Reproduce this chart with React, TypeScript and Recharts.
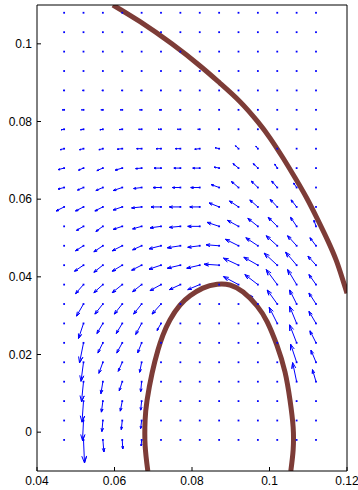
import { ComposedChart, Line, Scatter, XAxis, YAxis } from "recharts";

// quiver grid (columns left to right, rows top to bottom)
const xGrid = [0.047, 0.052, 0.057, 0.062, 0.067, 0.072, 0.077, 0.082, 0.087, 0.092, 0.097, 0.102, 0.107, 0.112];
const yGrid = [
  0.108, 0.103, 0.098, 0.093, 0.088, 0.083, 0.078, 0.073, 0.068, 0.063, 0.058, 0.053,
  0.048, 0.043, 0.038, 0.033, 0.028, 0.023, 0.018, 0.013, 0.008, 0.003, -0.002,
];

// velocity components, one row per yGrid entry
const U = [
  [0, 0, 0, 0, 0, 0, 0, 0, 0, 0, 0, 0, 0, 0],
  [0, 0, 0, 0, 0, 0, 0, 0, 0, 0, 0, 0, 0, 0],
  [0, 0, 0, 0, 0, 0, 0, 0, 0, 0, 0, 0, 0, 0],
  [0, 0, 0, 0, 0, 0, 0, 0, 0, 0, 0, 0, 0, 0],
  [-1, -1, -1, -1, -1, -1, -0.5, 0, 0, 0, 0, 0, 0, 0],
  [-2, -2, -2, -2, -2, -2, -1, -0.5, 0, 0, 0, 0, 0, 0],
  [-3, -3, -3, -3, -3, -3, -3, -2, -1, -0.5, 0, 0, 0, 0],
  [-4, -4, -4, -5, -5, -5, -5, -5, -4, -3, -2, 0, 0, 0],
  [-6, -5, -6, -7, -6, -7, -6.5, -7, -5, -5.5, -4.5, -2.5, 0, 0],
  [-6, -6, -7, -9, -8, -8, -8, -9, -8, -7, -6.5, -5.5, -3, 0],
  [-8, -8, -8, -9, -10, -10, -11, -10, -10, -9, -8, -7, -5.5, 0],
  [0, -7, -7, -9, -9, -11, -11, -12, -12, -11, -10, -9, -6, -2],
  [0, -8, -9, -10, -9, -12, -13, -12, -13, -13, -12, -11, -9, -6],
  [0, -9, -9, -10, -10, -12, -13, -13, -15, -15, -14, -13, -11, -8],
  [0, -8, -9, -10, -9, -11, -11, -12, 0, -15, -13, -11, -9, -7],
  [0, -7, -8, -8, -8, -9, -4, 0, 0, 0, -8, -10, -7, -7],
  [0, -5, -6, -6, -6, -4, 0, 0, 0, 0, 0, -8, -7, -7],
  [0, -4, -5, -5.5, -4, 0, 0, 0, 0, 0, 0, 0, -7, -6],
  [0, -2.5, -4, -4, -2, 0, 0, 0, 0, 0, 0, 0, -6, -5],
  [0, -2, -2, -3, -1, 0, 0, 0, 0, 0, 0, 0, -4, -3.5],
  [0, -1.5, -1.5, -2, -1, 0, 0, 0, 0, 0, 0, 0, 0, 0],
  [0, -1, -1, -1, -1, 0, 0, 0, 0, 0, 0, 0, 0, 0],
  [0, 1, 1, 0.5, -0.5, 0, 0, 0, 0, 0, 0, 0, 0, 0],
];
const V = [
  [0, 0, 0, 0, 0, 0, 0, 0, 0, 0, 0, 0, 0, 0],
  [0, 0, 0, 0, 0, 0, 0, 0, 0, 0, 0, 0, 0, 0],
  [0, 0, 0, 0, 0, 0, 0, 0, 0, 0, 0, 0, 0, 0],
  [0, 0, 0, 0, 0, 0, 0, 0, 0, 0, 0, 0, 0, 0],
  [0, 0, 0, 0, 0, 0, 0, 0, 0, 0, 0, 0, 0, 0],
  [0, 0, 0, 0, 0, 0, 0, 0, 0, 0, 0, 0, 0, 0],
  [-0.5, -0.5, -0.5, -0.3, 0, 0, 0, 0, 0, 0, 0, 0, 0, 0],
  [-1, -1, -1, -0.5, 0, 0, 0, -0.5, 1, 3, 2.5, 0, 0, 0],
  [-1.5, -2, -2.5, -2, -0.5, 0, 0, 0, 1, 4.5, 4.5, 4, 0, 0],
  [-1.5, -2.5, -3, -3, -1, 0, 0, 0, 3, 6, 6.5, 6.5, 4.5, 0],
  [-4, -4, -4, -3, -1, 0, 0, 0, 4, 6, 7, 7.5, 7, 0],
  [0, -4, -5, -3, -2.5, -1.5, -1, 0, 4, 6, 8, 9, 9, 6],
  [0, -5, -6, -5, -4, -3, -2, -1.5, 1, 6.5, 8, 10, 10, 8],
  [0, -6, -7, -6, -5, -4, -3, -3, 1, 7, 8, 12, 13, 9],
  [0, -9, -8, -8, -7, -6, -5, -5, 0, 8, 10, 15, 15, 10],
  [0, -12, -10, -10, -10, -10, -6, 0, 0, 0, 9, 14, 14, 11],
  [0, -15, -10, -10, -11, -7, 0, 0, 0, 0, 0, 16, 17, 12],
  [0, -20, -10, -10, -10, 0, 0, 0, 0, 0, 0, 0, 18, 12],
  [0, -19, -11, -9, -10, 0, 0, 0, 0, 0, 0, 0, 18, 12],
  [0, -20, -12, -9, -10, 0, 0, 0, 0, 0, 0, 0, 19, 12],
  [0, -21, -11, -10, -9, 0, 0, 0, 0, 0, 0, 0, 0, 0],
  [0, -20, -11, -9, -8, 0, 0, 0, 0, 0, 0, 0, 0, 0],
  [0, -23, -12, -9, -6, 0, 0, 0, 0, 0, 0, 0, 0, 0],
];

const outerContour = [
  { x: 0.0596, y: 0.11 }, { x: 0.0666, y: 0.1057 }, { x: 0.0748, y: 0.1 },
  { x: 0.0821, y: 0.0943 }, { x: 0.0872, y: 0.0899 }, { x: 0.0924, y: 0.0851 },
  { x: 0.097, y: 0.0799 }, { x: 0.1001, y: 0.0758 }, { x: 0.1035, y: 0.0706 },
  { x: 0.1066, y: 0.0655 }, { x: 0.1097, y: 0.0601 }, { x: 0.1125, y: 0.0546 },
  { x: 0.1151, y: 0.0492 }, { x: 0.1172, y: 0.0443 }, { x: 0.1187, y: 0.0399 },
  { x: 0.12, y: 0.0358 },
];
const innerContour = [
  { x: 0.0686, y: -0.01 }, { x: 0.0679, y: -0.0034 }, { x: 0.0679, y: 0.0031 },
  { x: 0.0684, y: 0.0082 }, { x: 0.0697, y: 0.0152 }, { x: 0.0712, y: 0.0211 },
  { x: 0.0725, y: 0.025 }, { x: 0.0743, y: 0.0289 }, { x: 0.0769, y: 0.0327 },
  { x: 0.0795, y: 0.0351 }, { x: 0.0828, y: 0.0371 }, { x: 0.0865, y: 0.0381 },
  { x: 0.0898, y: 0.0379 }, { x: 0.0932, y: 0.0361 }, { x: 0.0968, y: 0.0325 },
  { x: 0.0994, y: 0.0284 }, { x: 0.1019, y: 0.0224 }, { x: 0.104, y: 0.0155 },
  { x: 0.1053, y: 0.0082 }, { x: 0.1061, y: 0.0013 }, { x: 0.1061, y: -0.0046 },
  { x: 0.1055, y: -0.01 },
];

const xTicks = [0.04, 0.06, 0.08, 0.1, 0.12];
const yTicks = [0, 0.02, 0.04, 0.06, 0.08, 0.1];

const ARROW_SCALE = 0.000258;
const HEAD = 0.3;
const WIDE = 0.35;

const gridPoints: { x: number; y: number }[] = [];
const arrowPath: { x: number; y: number | null }[] = [];
yGrid.forEach((y, r) => {
  xGrid.forEach((x, c) => {
    gridPoints.push({ x, y });
    const u = U[r][c] * ARROW_SCALE;
    const v = V[r][c] * ARROW_SCALE;
    if (u === 0 && v === 0) return;
    const tx = x + u;
    const ty = y + v;
    arrowPath.push(
      { x, y },
      { x: tx, y: ty },
      { x: tx - HEAD * (u + WIDE * v), y: ty - HEAD * (v - WIDE * u) },
      { x: tx, y: ty },
      { x: tx - HEAD * (u - WIDE * v), y: ty - HEAD * (v + WIDE * u) },
      { x: tx, y: null },
    );
  });
});

const tickStyle = { fill: "#000", fontSize: 12, fontFamily: "Liberation Sans, Arial, sans-serif" };
const fmt = (v: number) => String(v);

export default function App() {
  return (
    <div style={{ position: "absolute", left: 0, top: 0, background: "#fff" }}>
      <ComposedChart width={358} height={490} margin={{ top: 4, right: 10, bottom: 0, left: 0 }}>
        <XAxis
          dataKey="x"
          type="number"
          domain={[0.04, 0.12]}
          ticks={xTicks}
          tickFormatter={fmt}
          allowDataOverflow
          height={19}
          tickSize={-4}
          tickMargin={9}
          tick={tickStyle}
          stroke="#000"
          interval={0}
        />
        <XAxis
          xAxisId="top"
          orientation="top"
          dataKey="x"
          type="number"
          domain={[0.04, 0.12]}
          ticks={xTicks}
          allowDataOverflow
          height={1}
          tickSize={-4}
          tick={false}
          stroke="#000"
          interval={0}
        />
        <YAxis
          dataKey="y"
          type="number"
          domain={[-0.01, 0.11]}
          ticks={yTicks}
          tickFormatter={fmt}
          allowDataOverflow
          width={37}
          tickSize={-4}
          tickMargin={9}
          tick={tickStyle}
          stroke="#000"
          interval={0}
        />
        <YAxis
          yAxisId="right"
          orientation="right"
          dataKey="y"
          type="number"
          domain={[-0.01, 0.11]}
          ticks={yTicks}
          allowDataOverflow
          width={1}
          tickSize={-4}
          tick={false}
          stroke="#000"
          interval={0}
        />
        <Scatter
          data={gridPoints}
          isAnimationActive={false}
          shape={(p: any) => (
            <rect x={p.cx - 0.9} y={p.cy - 0.9} width={1.8} height={1.8} fill="#0000ff" />
          )}
        />
        <Scatter
          data={gridPoints}
          xAxisId="top"
          yAxisId="right"
          isAnimationActive={false}
          shape={() => <g />}
        />
        <Line
          data={arrowPath}
          dataKey="y"
          type="linear"
          stroke="#0000ff"
          strokeWidth={1}
          dot={false}
          activeDot={false}
          connectNulls={false}
          isAnimationActive={false}
        />
        <Line
          data={outerContour}
          dataKey="y"
          type="natural"
          stroke="#7d3c37"
          strokeWidth={5}
          dot={false}
          activeDot={false}
          isAnimationActive={false}
        />
        <Line
          data={innerContour}
          dataKey="y"
          type="natural"
          stroke="#7d3c37"
          strokeWidth={5}
          dot={false}
          activeDot={false}
          isAnimationActive={false}
        />
      </ComposedChart>
    </div>
  );
}
